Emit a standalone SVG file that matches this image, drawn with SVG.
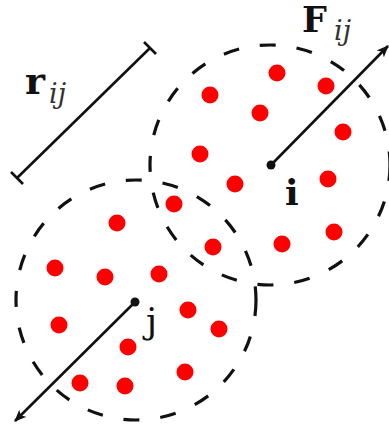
<svg xmlns="http://www.w3.org/2000/svg" width="389" height="430" viewBox="0 0 389 430">
<defs>
<style>
.circ{fill:none;stroke:#111;stroke-width:3.2;stroke-dasharray:16 21}
.p{fill:#ff0000}
.ln{stroke:#111;stroke-width:2.6;fill:none}
.ctr{fill:#111}
</style>
<marker id="ah" viewBox="0 0 12 10" refX="11" refY="5" markerWidth="12" markerHeight="10" markerUnits="userSpaceOnUse" orient="auto">
<path d="M0,0 L12,5 L0,10 L3,5 Z" fill="#111"/>
</marker>
</defs>
<rect width="389" height="430" fill="#fff"/>
<g id="particle-i">
<circle class="circ" cx="270" cy="165" r="120"/>
<circle class="p" cx="277" cy="73" r="8.5"/>
<circle class="p" cx="326" cy="86" r="8.5"/>
<circle class="p" cx="210" cy="95" r="8.5"/>
<circle class="p" cx="260" cy="113" r="8.5"/>
<circle class="p" cx="343" cy="132" r="8.5"/>
<circle class="p" cx="200" cy="154" r="8.5"/>
<circle class="p" cx="235" cy="184" r="8.5"/>
<circle class="p" cx="328" cy="179" r="8.5"/>
<circle class="p" cx="174" cy="204" r="8.5"/>
<circle class="p" cx="213" cy="247" r="8.5"/>
<circle class="p" cx="282" cy="244" r="8.5"/>
<circle class="p" cx="334" cy="232" r="8.5"/>
<circle class="ctr" cx="271" cy="165" r="4.5"/>
<text x="285" y="205" font-family="DejaVu Serif, serif" font-weight="bold" font-size="36" fill="#111">i</text>
</g>
<g id="particle-j">
<circle class="circ" cx="136" cy="300" r="120"/>
<circle class="p" cx="117" cy="223" r="8.5"/>
<circle class="p" cx="55" cy="268" r="8.5"/>
<circle class="p" cx="105" cy="277" r="8.5"/>
<circle class="p" cx="159" cy="274" r="8.5"/>
<circle class="p" cx="188" cy="310" r="8.5"/>
<circle class="p" cx="219" cy="329" r="8.5"/>
<circle class="p" cx="59" cy="325" r="8.5"/>
<circle class="p" cx="128" cy="347" r="8.5"/>
<circle class="p" cx="185" cy="372" r="8.5"/>
<circle class="p" cx="80" cy="383" r="8.5"/>
<circle class="p" cx="125" cy="386" r="8.5"/>
<circle class="ctr" cx="135" cy="302" r="4.5"/>
<text x="146" y="333" font-family="DejaVu Serif, serif" font-size="36" fill="#111">j</text>
</g>
<g id="connectors">
<line class="ln" x1="271" y1="165" x2="388" y2="46" marker-end="url(#ah)"/>
<line class="ln" x1="135" y1="302" x2="15" y2="421" marker-end="url(#ah)"/>
<g id="scale-r">
<line class="ln" x1="150" y1="48" x2="17" y2="178"/>
<line class="ln" x1="144" y1="42" x2="156" y2="54"/>
<line class="ln" x1="11" y1="172" x2="23" y2="184"/>
</g>
</g>
<g id="labels">
<text x="302" y="32" font-family="DejaVu Serif, serif" font-weight="bold" font-size="35" fill="#111">F</text>
<text x="334" y="40" font-family="DejaVu Serif, serif" font-style="italic" font-size="27" fill="#333">ij</text>
<text x="25" y="94" font-family="DejaVu Serif, serif" font-weight="bold" font-size="38" fill="#111">r</text>
<text x="49" y="103" font-family="DejaVu Serif, serif" font-style="italic" font-size="27" fill="#333">ij</text>
</g>
</svg>
